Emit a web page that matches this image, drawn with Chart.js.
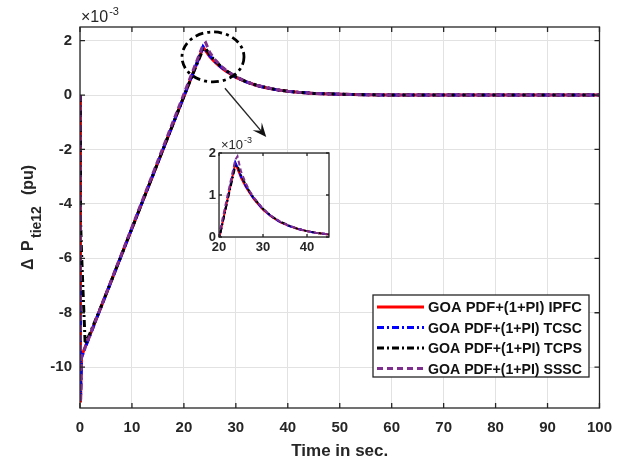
<!DOCTYPE html>
<html>
<head>
<meta charset="utf-8">
<script src="https://cdn.jsdelivr.net/npm/chart.js@4.4.1/dist/chart.umd.min.js"></script>
<style>
  html, body { margin: 0; padding: 0; background: #fff; }
  #wrap { position: relative; width: 623px; height: 463px; }
  #main { position: absolute; left: 0; top: 0; }
  #inset { position: absolute; left: 190px; top: 130px; }
</style>
</head>
<body>
<div id="wrap">
  <canvas id="main" width="623" height="463"></canvas>
  <canvas id="inset" width="150" height="130"></canvas>
</div>
<script>
// time axis (s) and tie-line power deviation (x 10^-3 pu)
const time = [0, 0.1, 0.3, 0.6, 1, 2, 4, 6, 8, 10, 12, 14, 16, 18, 20, 22, 23.7, 24.2, 25, 26, 27, 28, 30, 32, 34, 36, 38, 40, 42, 45, 50, 55, 60, 70, 80, 90, 100];
const ipfc = [0, -11.3, -9.6, -9.45, -9.26, -8.78, -7.81, -6.84, -5.87, -4.9, -3.93, -2.96, -1.99, -1.02, -0.05, 0.93, 1.75, 1.62, 1.41, 1.21, 1.04, 0.89, 0.65, 0.48, 0.35, 0.26, 0.19, 0.14, 0.1, 0.06, 0.03, 0.01, 0, 0, 0, 0, 0];
const tcsc = [0, -11.2, -9.65, -9.5, -9.28, -8.8, -7.82, -6.85, -5.88, -4.9, -3.93, -2.96, -1.99, -1.02, -0.05, 0.93, 1.78, 1.66, 1.44, 1.23, 1.05, 0.9, 0.66, 0.48, 0.35, 0.26, 0.19, 0.14, 0.1, 0.06, 0.03, 0.01, 0, 0, 0, 0, 0];
const tcps = [0, -4.6, -5.8, -7.3, -9.15, -8.72, -7.8, -6.84, -5.87, -4.9, -3.93, -2.96, -1.99, -1.02, -0.05, 0.9, 1.68, 1.70, 1.48, 1.26, 1.07, 0.92, 0.67, 0.49, 0.36, 0.27, 0.19, 0.14, 0.1, 0.06, 0.03, 0.01, 0, 0, 0, 0, 0];
const sssc = [0, -11.3, -9.62, -9.47, -9.27, -8.78, -7.8, -6.82, -5.84, -4.86, -3.88, -2.9, -1.92, -0.94, 0.04, 1.02, 1.84, 1.92, 1.56, 1.3, 1.09, 0.93, 0.67, 0.49, 0.36, 0.27, 0.19, 0.14, 0.1, 0.06, 0.03, 0.01, 0, 0, 0, 0, 0];

const seriesNames = ['GOA PDF+(1+PI) IPFC', 'GOA PDF+(1+PI) TCSC', 'GOA PDF+(1+PI) TCPS', 'GOA PDF+(1+PI) SSSC'];
const seriesValues = [ipfc, tcsc, tcps, sssc];
const seriesColors = ['#ff0000', '#0000ff', '#000000', '#7e2f8e'];
const seriesDash = [[], [7, 3, 2, 3], [7, 3, 2, 3], [6, 4]];
const seriesOrder = [4, 3, 2, 1];

const xTicks = [0, 10, 20, 30, 40, 50, 60, 70, 80, 90, 100];
const yTicks = [-10, -8, -6, -4, -2, 0, 2];
const insetXTicks = [20, 30, 40];
const insetYTicks = [0, 1, 2];

const FONT = 'Liberation Sans, Arial, sans-serif';

function makeDatasets(width, dashScale) {
  return seriesValues.map((vals, i) => ({
    label: seriesNames[i],
    data: time.map((t, k) => ({ x: t, y: vals[k] })),
    borderColor: seriesColors[i],
    borderWidth: width,
    borderDash: seriesDash[i].map(d => d * dashScale),
    pointRadius: 0,
    tension: 0,
    order: seriesOrder[i]
  }));
}

function drawFrame(ctx, chart, tickLen) {
  const a = chart.chartArea;
  const xs = chart.scales.x, ys = chart.scales.y;
  ctx.save();
  ctx.strokeStyle = '#262626';
  ctx.lineWidth = 1.3;
  ctx.beginPath();
  xs.ticks.forEach(t => {
    const px = xs.getPixelForValue(t.value);
    ctx.moveTo(px, a.bottom); ctx.lineTo(px, a.bottom - tickLen);
    ctx.moveTo(px, a.top); ctx.lineTo(px, a.top + tickLen);
  });
  ys.ticks.forEach(t => {
    const py = ys.getPixelForValue(t.value);
    ctx.moveTo(a.left, py); ctx.lineTo(a.left + tickLen, py);
    ctx.moveTo(a.right, py); ctx.lineTo(a.right - tickLen, py);
  });
  ctx.stroke();
  ctx.strokeRect(a.left, a.top, a.right - a.left, a.bottom - a.top);
  ctx.restore();
}

function drawExponent(ctx, x, y, size) {
  ctx.save();
  ctx.fillStyle = '#262626';
  ctx.textBaseline = 'middle';
  ctx.textAlign = 'left';
  ctx.font = size + 'px ' + FONT;
  ctx.fillText('\u00d710', x, y);
  const w = ctx.measureText('\u00d710').width;
  ctx.font = Math.round(size * 0.7) + 'px ' + FONT;
  ctx.fillText('-3', x + w + 1, y - size * 0.35);
  ctx.restore();
}

const whiteArea = {
  id: 'whiteArea',
  beforeDraw(chart) {
    const a = chart.chartArea, ctx = chart.ctx;
    ctx.save();
    ctx.fillStyle = '#fff';
    ctx.fillRect(a.left, a.top, a.right - a.left, a.bottom - a.top);
    ctx.restore();
  }
};

const mainDecor = {
  id: 'mainDecor',
  afterDraw(chart) {
    const ctx = chart.ctx, a = chart.chartArea;
    const xs = chart.scales.x, ys = chart.scales.y;
    drawFrame(ctx, chart, 5);
    drawExponent(ctx, a.left + 1, a.top - 9, 16);

    // y title: Delta P_tie12 (pu)
    ctx.save();
    ctx.translate(33, 270);
    ctx.rotate(-Math.PI / 2);
    ctx.fillStyle = '#262626';
    ctx.textBaseline = 'alphabetic';
    ctx.textAlign = 'left';
    ctx.font = 'bold 16px ' + FONT;
    ctx.fillText('\u0394', 0, 0);
    ctx.fillText('P', 19, 0);
    ctx.fillText('(pu)', 75, 0);
    ctx.font = 'bold 14px ' + FONT;
    ctx.fillText('tie12', 32, 8);
    ctx.restore();

    // x title
    ctx.save();
    ctx.fillStyle = '#262626';
    ctx.font = 'bold 17px ' + FONT;
    ctx.textAlign = 'center';
    ctx.textBaseline = 'middle';
    ctx.fillText('Time in sec.', (a.left + a.right) / 2, 451);
    ctx.restore();

    // ellipse around the peak
    ctx.save();
    ctx.strokeStyle = '#000';
    ctx.lineWidth = 2.8;
    ctx.setLineDash([8, 4, 3, 4]);
    ctx.beginPath();
    ctx.ellipse(xs.getPixelForValue(25.6), ys.getPixelForValue(1.4), 31, 25, 0, 0, Math.PI * 2);
    ctx.stroke();
    ctx.restore();

    // arrow to the inset
    const x0 = xs.getPixelForValue(27.9), y0 = ys.getPixelForValue(0.25);
    const x1 = xs.getPixelForValue(35.85), y1 = ys.getPixelForValue(-1.54);
    const ang = Math.atan2(y1 - y0, x1 - x0);
    const c = Math.cos(ang), s = Math.sin(ang);
    ctx.save();
    ctx.strokeStyle = '#262626';
    ctx.fillStyle = '#111';
    ctx.lineWidth = 1.4;
    ctx.beginPath();
    ctx.moveTo(x0, y0);
    ctx.lineTo(x1 - 8 * c, y1 - 8 * s);
    ctx.stroke();
    ctx.beginPath();
    ctx.moveTo(x1, y1);
    ctx.lineTo(x1 - 14 * c + 6 * s, y1 - 14 * s - 6 * c);
    ctx.lineTo(x1 - 8 * c, y1 - 8 * s);
    ctx.lineTo(x1 - 14 * c - 6 * s, y1 - 14 * s + 6 * c);
    ctx.closePath();
    ctx.fill();
    ctx.restore();

    // legend box
    const lx = 373, ly = 295, lw = 216, lh = 82;
    ctx.save();
    ctx.fillStyle = '#fff';
    ctx.fillRect(lx, ly, lw, lh);
    ctx.strokeStyle = '#262626';
    ctx.lineWidth = 1.3;
    ctx.strokeRect(lx, ly, lw, lh);
    chart.data.datasets.forEach((ds, i) => {
      const ry = ly + 12 + i * 20.5;
      ctx.strokeStyle = ds.borderColor;
      ctx.lineWidth = 2.8;
      ctx.setLineDash(ds.borderDash);
      ctx.beginPath();
      ctx.moveTo(377, ry);
      ctx.lineTo(424, ry);
      ctx.stroke();
      ctx.setLineDash([]);
      ctx.fillStyle = '#111';
      ctx.font = 'bold 15px ' + FONT;
      ctx.textBaseline = 'middle';
      ctx.textAlign = 'left';
      ctx.fillText(ds.label, 428, ry + 1, 154);
    });
    ctx.restore();
  }
};

const insetDecor = {
  id: 'insetDecor',
  afterDraw(chart) {
    const ctx = chart.ctx, a = chart.chartArea;
    drawFrame(ctx, chart, 3);
    drawExponent(ctx, a.left + 2, a.top - 8, 13);
  }
};

function linearAxis(min, max, tickVals, fontSize, pad, fitKey, fitVal) {
  return {
    type: 'linear',
    min: min,
    max: max,
    afterBuildTicks: s => { s.ticks = tickVals.map(v => ({ value: v })); },
    afterFit: s => { s[fitKey] = fitVal; },
    grid: { color: '#e2e2e2', lineWidth: 1, drawTicks: false },
    border: { display: false },
    ticks: {
      color: '#262626',
      padding: pad,
      font: { family: FONT, size: fontSize, weight: 'bold' },
      maxRotation: 0,
      autoSkip: false
    }
  };
}

new Chart(document.getElementById('main').getContext('2d'), {
  type: 'line',
  data: { datasets: makeDatasets(3, 1) },
  options: {
    responsive: false,
    animation: false,
    layout: { padding: { top: 27, right: 20, left: 0, bottom: 0 } },
    plugins: { legend: { display: false }, tooltip: { enabled: false } },
    scales: {
      x: linearAxis(0, 100, xTicks, 15, 11, 'height', 55),
      y: linearAxis(-11.5, 2.5, yTicks, 15, 8, 'width', 80)
    }
  },
  plugins: [mainDecor]
});

new Chart(document.getElementById('inset').getContext('2d'), {
  type: 'line',
  data: { datasets: makeDatasets(2, 0.8) },
  options: {
    responsive: false,
    animation: false,
    layout: { padding: { top: 23, right: 11, left: 0, bottom: 0 } },
    plugins: { legend: { display: false }, tooltip: { enabled: false } },
    scales: {
      x: linearAxis(20, 45, insetXTicks, 13, 3, 'height', 23),
      y: linearAxis(0, 2, insetYTicks, 13, 3, 'width', 29)
    }
  },
  plugins: [whiteArea, insetDecor]
});
</script>
</body>
</html>
